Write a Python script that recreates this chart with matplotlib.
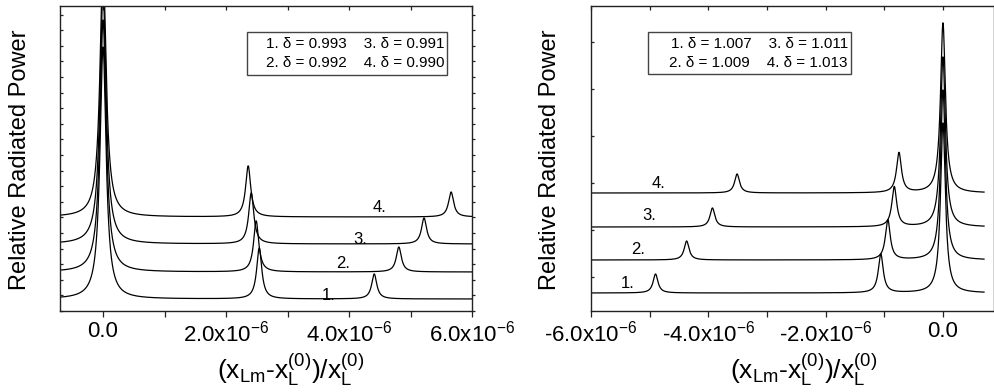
import numpy as np
import matplotlib
matplotlib.use("Agg")
import matplotlib.pyplot as plt
from matplotlib.patches import Rectangle

plt.rcParams['font.family'] = ['Liberation Sans', 'DejaVu Sans']
plt.rcParams['mathtext.fontset'] = 'custom'
plt.rcParams['mathtext.rm'] = 'Liberation Sans'
plt.rcParams['mathtext.it'] = 'Liberation Sans'
plt.rcParams['mathtext.bf'] = 'Liberation Sans:bold'

# ---------------- data ----------------
curve_labels = ["1.", "2.", "3.", "4."]

# left panel (delta < 1)
left_deltas = ["0.993", "0.992", "0.991", "0.990"]
left_baseline = [12, 39, 67, 94]
left_main_pos = [0.0, 0.0, 0.0, 0.0]
left_main_height = [252, 252, 252, 252]
left_main_width = [0.060e-6, 0.060e-6, 0.060e-6, 0.060e-6]
left_p2_pos = [2.54e-6, 2.49e-6, 2.41e-6, 2.36e-6]
left_p2_height = [51, 51, 51, 51]
left_p2_width = [0.05e-6, 0.05e-6, 0.05e-6, 0.05e-6]
left_p3_pos = [4.41e-6, 4.81e-6, 5.22e-6, 5.66e-6]
left_p3_height = [25, 25, 26, 25]
left_p3_width = [0.05e-6, 0.05e-6, 0.05e-6, 0.05e-6]
left_label_x = [3.67e-6, 3.90e-6, 4.18e-6, 4.49e-6]
left_label_y = [16, 48, 72, 104]
left_xticks = [0.0, 2.0e-6, 4.0e-6, 6.0e-6]
left_xticklabels = ["0.0", "2.0x10$^{-6}$", "4.0x10$^{-6}$", "6.0x10$^{-6}$"]
left_xminor = [1.0e-6, 3.0e-6, 5.0e-6]

# right panel (delta > 1)
right_deltas = ["1.007", "1.009", "1.011", "1.013"]
right_baseline = [18, 51, 84, 118]
right_main_pos = [0.0, 0.0, 0.0, 0.0]
right_main_height = [170, 170, 170, 170]
right_main_width = [0.05e-6, 0.05e-6, 0.05e-6, 0.05e-6]
right_p2_pos = [-1.06e-6, -0.94e-6, -0.83e-6, -0.75e-6]
right_p2_height = [39, 40, 40, 40]
right_p2_width = [0.05e-6, 0.05e-6, 0.05e-6, 0.05e-6]
right_p3_pos = [-4.90e-6, -4.37e-6, -3.93e-6, -3.51e-6]
right_p3_height = [19, 19, 19, 19]
right_p3_width = [0.05e-6, 0.05e-6, 0.05e-6, 0.05e-6]
right_label_x = [-5.38e-6, -5.19e-6, -5.00e-6, -4.85e-6]
right_label_y = [28, 62, 95, 128]
right_xticks = [-6.0e-6, -4.0e-6, -2.0e-6, 0.0]
right_xticklabels = ["-6.0x10$^{-6}$", "-4.0x10$^{-6}$", "-2.0x10$^{-6}$", "0.0"]
right_xminor = [-5.0e-6, -3.0e-6, -1.0e-6]

W, H = 995, 392
fig = plt.figure(figsize=(W / 100, H / 100), dpi=100)


def fr(px0, py0, px1, py1):
    return [px0 / W, 1 - py1 / H, (px1 - px0) / W, (py1 - py0) / H]


def lorentz(x, x0, h, g):
    return h / (1.0 + ((x - x0) / g) ** 2)


def spectrum(x, i, base, pos_list):
    y = np.full_like(x, base[i], dtype=float)
    for pos, hei, wid in pos_list:
        y += lorentz(x, pos[i], hei[i], wid[i])
    return y


def style_axes(ax, yticks, majors, minors):
    for s in ax.spines.values():
        s.set_linewidth(1.0)
        s.set_color('#222222')
    ax.tick_params(axis='x', which='both', bottom=True, top=False,
                   direction='out', labelsize=16, pad=3, color='#222222',
                   length=4, width=0.9)
    ax.tick_params(axis='y', which='both', left=True, right=False,
                   direction='in', length=2.5, width=0.9, labelleft=False,
                   color='#222222')
    ax.set_yticks(yticks)
    top = ax.secondary_xaxis('top')
    top.set_xticks(majors)
    top.set_xticks(minors, minor=True)
    top.tick_params(axis='x', which='both', direction='in', length=3,
                    width=0.9, labeltop=False, color='#222222')
    top.spines['top'].set_visible(False)
    right = ax.secondary_yaxis('right')
    right.set_yticks(yticks)
    right.tick_params(axis='y', which='both', direction='out', length=2.5,
                      width=0.9, labelright=False, color='#222222')
    right.spines['right'].set_visible(False)


# ---------------- left panel ----------------
axL = fig.add_axes(fr(60, 6, 472, 311))
xL = np.linspace(-0.7e-6, 6.0e-6, 20000)
for i in range(4):
    y = spectrum(xL, i, left_baseline,
                 [(left_main_pos, left_main_height, left_main_width),
                  (left_p2_pos, left_p2_height, left_p2_width),
                  (left_p3_pos, left_p3_height, left_p3_width)])
    axL.plot(xL, y, color='black', lw=0.9)
    axL.text(left_label_x[i], left_label_y[i], curve_labels[i], fontsize=12,
             ha='center', va='center')
axL.set_xlim(-0.7e-6, 6.0e-6)
axL.set_ylim(0, 305)
axL.set_xticks(left_xticks)
axL.set_xticklabels(left_xticklabels)
axL.set_xticks(left_xminor, minor=True)
style_axes(axL, np.arange(0, 305, 15.6), left_xticks, left_xminor)

# ---------------- right panel ----------------
axR = fig.add_axes(fr(591, 6, 994, 311))
xR = np.linspace(-6.0e-6, 0.70e-6, 20000)
for i in range(4):
    y = spectrum(xR, i, right_baseline,
                 [(right_main_pos, right_main_height, right_main_width),
                  (right_p2_pos, right_p2_height, right_p2_width),
                  (right_p3_pos, right_p3_height, right_p3_width)])
    axR.plot(xR, y, color='black', lw=0.9)
    axR.text(right_label_x[i], right_label_y[i], curve_labels[i], fontsize=12,
             ha='center', va='center')
axR.set_xlim(-6.0e-6, 0.87e-6)
axR.set_ylim(0, 305)
axR.set_xticks(right_xticks)
axR.set_xticklabels(right_xticklabels)
axR.set_xticks(right_xminor, minor=True)
style_axes(axR, np.arange(34, 305, 47), right_xticks, right_xminor)

# ---------------- legends (boxes with text) ----------------
def legend_box(px0, py0, px1, py1, deltas, text_rx):
    fig.patches.append(Rectangle((px0 / W, 1 - py1 / H), (px1 - px0) / W,
                                 (py1 - py0) / H, transform=fig.transFigure,
                                 fill=False, edgecolor='#444444', lw=1.0))
    rows = [f"1. \u03b4 = {deltas[0]}    3. \u03b4 = {deltas[2]}",
            f"2. \u03b4 = {deltas[1]}    4. \u03b4 = {deltas[3]}"]
    for r, py in zip(rows, [44, 63]):
        fig.text(text_rx / W, 1 - py / H, r, fontsize=11, ha='right',
                 va='center')

legend_box(247, 32, 447, 75, left_deltas, 445)
legend_box(648, 32, 851, 74, right_deltas, 848)

# ---------------- axis titles ----------------
ylab = "Relative Radiated Power"
fig.text(20 / W, 1 - 160 / H, ylab, rotation=90, fontsize=17,
         ha='center', va='center')
fig.text(550 / W, 1 - 160 / H, ylab, rotation=90, fontsize=17,
         ha='center', va='center')
xlab = r"(x$_{\mathregular{Lm}}$-x$_{\mathregular{L}}^{\mathregular{(0)}}$)/x$_{\mathregular{L}}^{\mathregular{(0)}}$"
fig.text(291 / W, 1 - 370 / H, xlab, fontsize=19, ha='center', va='center')
fig.text(804 / W, 1 - 370 / H, xlab, fontsize=19, ha='center', va='center')

fig.savefig("out.png", dpi=100)
